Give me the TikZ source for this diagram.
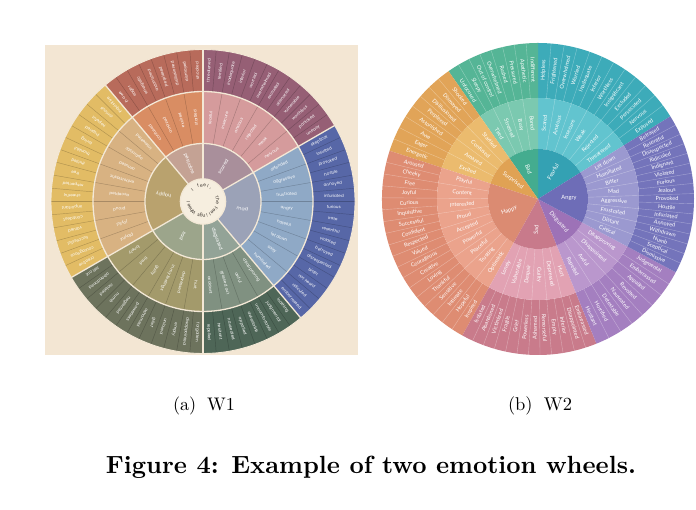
\documentclass[tikz,border=0pt]{standalone}
\usepackage{fontspec}
\usepackage{graphicx}
\newfontfamily\wonefont{Poppins}
\newfontfamily\wtwofont{Lato}

\definecolor{w1bg}{HTML}{F3E6D3}
\definecolor{w1line}{HTML}{F3E8D6}
\definecolor{w1center}{HTML}{F6EEDF}
\definecolor{w1ctext}{HTML}{3A342E}
\definecolor{w1madO}{HTML}{5767A7}
\definecolor{w1madM}{HTML}{8FA9C6}
\definecolor{w1madC}{HTML}{9BA2B7}
\definecolor{w1scaO}{HTML}{965F75}
\definecolor{w1scaM}{HTML}{D59B9C}
\definecolor{w1scaC}{HTML}{A98F9B}
\definecolor{w1surO}{HTML}{B86B5B}
\definecolor{w1surM}{HTML}{D98D63}
\definecolor{w1surC}{HTML}{C4A294}
\definecolor{w1hapO}{HTML}{E2BC65}
\definecolor{w1hapM}{HTML}{D8B282}
\definecolor{w1hapC}{HTML}{B9A26E}
\definecolor{w1sadO}{HTML}{6D735D}
\definecolor{w1sadM}{HTML}{A39A6B}
\definecolor{w1sadC}{HTML}{9CA58B}
\definecolor{w1disO}{HTML}{4E6657}
\definecolor{w1disM}{HTML}{809181}
\definecolor{w1disC}{HTML}{93A397}

\definecolor{w2fearO}{HTML}{3DABB9}
\definecolor{w2fearM}{HTML}{62C4CF}
\definecolor{w2fearC}{HTML}{34A1B3}
\definecolor{w2badO}{HTML}{55B596}
\definecolor{w2badM}{HTML}{7BC9B0}
\definecolor{w2badC}{HTML}{44AC8F}
\definecolor{w2surO}{HTML}{E1A458}
\definecolor{w2surM}{HTML}{EBBB6E}
\definecolor{w2surC}{HTML}{E0A254}
\definecolor{w2hapO}{HTML}{DE8C72}
\definecolor{w2hapM}{HTML}{EBA38C}
\definecolor{w2hapC}{HTML}{DB8B72}
\definecolor{w2sadO}{HTML}{C97B8B}
\definecolor{w2sadM}{HTML}{E2A2B3}
\definecolor{w2sadC}{HTML}{C87A8B}
\definecolor{w2disO}{HTML}{A47FC0}
\definecolor{w2disM}{HTML}{BA97CD}
\definecolor{w2disC}{HTML}{9D72B7}
\definecolor{w2angO}{HTML}{7474BB}
\definecolor{w2angM}{HTML}{9B99D0}
\definecolor{w2angC}{HTML}{6E6DB7}

\def\wRout{152}\def\wRmid{110}\def\wRcore{58}\def\wRin{22.7}
\def\vRout{156}\def\vRmid{101}\def\vRcore{50}

\tikzset{
  w1txt/.style={text=white, font=\wonefont\fontsize{4.1}{4.5}\selectfont, inner sep=0pt},
  w1coretxt/.style={text=white, font=\wonefont\fontsize{4.8}{5}\selectfont, inner sep=0pt},
  w1leaf/.style={draw=black, draw opacity=0.22, line width=0.45pt},
  w1sep/.style={draw=w1line, line width=1.3pt},
  w2txt/.style={text=white, font=\wtwofont\fontsize{5.5}{6}\selectfont, inner sep=0pt},
  w2coretxt/.style={text=white, font=\wtwofont\fontsize{5.8}{6}\selectfont, inner sep=0pt},
  w2leaf/.style={draw=white, draw opacity=0.35, line width=0.4pt},
  subcap/.style={inner sep=0pt},
  figcap/.style={font=\bfseries, inner sep=0pt},
  ctrtxt/.style={text=w1ctext, font=\wonefont\fontsize{4.6}{5}\selectfont, inner sep=0pt, anchor=base},
}

% #1 start, #2 leaves, #3 outer col, #4 middle col, #5 core col, #6 core label, #7 outer words, #8 middle words, #9 id
\newcommand\WOneSector[9]{%
  \pgfmathsetmacro\wsE{#1+5*#2}%
  \fill[#3] (#1:\wRmid) arc[start angle=#1,end angle=\wsE,radius=\wRmid] -- (\wsE:\wRout) arc[start angle=\wsE,end angle=#1,radius=\wRout] -- cycle;
  \fill[#4] (#1:\wRcore) arc[start angle=#1,end angle=\wsE,radius=\wRcore] -- (\wsE:\wRmid) arc[start angle=\wsE,end angle=#1,radius=\wRmid] -- cycle;
  \fill[#5] (0,0) -- (#1:\wRcore) arc[start angle=#1,end angle=\wsE,radius=\wRcore] -- cycle;
  \pgfmathtruncatemacro\wsN{#2-1}%
  \foreach \k in {1,...,\wsN} \draw[w1leaf] ({#1+5*\k}:\wRmid) -- ({#1+5*\k}:\wRout);
  \pgfmathtruncatemacro\wsM{#2/2-1}%
  \foreach \k in {1,...,\wsM} \draw[w1leaf] ({#1+10*\k}:\wRcore) -- ({#1+10*\k}:\wRmid);
  \foreach \w [count=\i] in {#7} {%
    \pgfmathsetmacro\wang{#1+5*\i-2.5}%
    \node[w1txt, rotate=\wang] (w1o#9\i) at (\wang:131) {\w};}
  \foreach \w [count=\i] in {#8} {%
    \pgfmathsetmacro\wang{#1+10*\i-5}%
    \node[w1txt, rotate=\wang] (w1m#9\i) at (\wang:84) {\w};}
  \pgfmathsetmacro\wang{#1+2.5*#2}%
  \node[w1coretxt, rotate=\wang] (w1c#9) at (\wang:40) {#6};
}

% #1 start, #2 end, #3 leaves, #4 core label, #5 outer words, #6 middle words, #7 id, #8 colour prefix
\newcommand\WTwoSector[8]{%
  \pgfmathsetmacro\wtS{(#2-#1)/#3}%
  \fill[#8O] (#1:\vRmid) arc[start angle=#1,end angle=#2,radius=\vRmid] -- (#2:\vRout) arc[start angle=#2,end angle=#1,radius=\vRout] -- cycle;
  \fill[#8M] (#1:\vRcore) arc[start angle=#1,end angle=#2,radius=\vRcore] -- (#2:\vRmid) arc[start angle=#2,end angle=#1,radius=\vRmid] -- cycle;
  \fill[#8C] (0,0) -- (#1:\vRcore) arc[start angle=#1,end angle=#2,radius=\vRcore] -- cycle;
  \pgfmathtruncatemacro\wtN{#3-1}%
  \foreach \k in {1,...,\wtN} \draw[w2leaf] ({#1+\wtS*\k}:\vRmid) -- ({#1+\wtS*\k}:\vRout);
  \pgfmathtruncatemacro\wtM{#3/2-1}%
  \foreach \k in {1,...,\wtM} \draw[w2leaf] ({#1+2*\wtS*\k}:\vRcore) -- ({#1+2*\wtS*\k}:\vRmid);
  \foreach \w [count=\i] in {#5} {%
    \pgfmathsetmacro\wang{#1+\wtS*(\i-0.5)}%
    \pgfmathsetmacro\wrot{cos(\wang)<0 ? \wang+180 : \wang}%
    \node[w2txt, rotate=\wrot] (w2o#7\i) at (\wang:129) {\w};}
  \foreach \w [count=\i] in {#6} {%
    \pgfmathsetmacro\wang{#1+2*\wtS*(\i-0.5)}%
    \pgfmathsetmacro\wrot{cos(\wang)<0 ? \wang+180 : \wang}%
    \node[w2txt, rotate=\wrot] (w2m#7\i) at (\wang:76) {\w};}
  \pgfmathsetmacro\wang{(#1+#2)/2}%
  \pgfmathsetmacro\wrot{cos(\wang)<0 ? \wang+180 : \wang}%
  \node[w2coretxt, rotate=\wrot] (w2c#7) at (\wang:31) {#4};
}

% curved text, one letter per node: #1 start angle, #2 step (negative = clockwise), #3 radius, #4 letters, #5 id
\newcommand\CircText[5]{%
  \foreach \ch [count=\i] in {#4} {%
    \pgfmathsetmacro\cang{#1+#2*(\i-1)}%
    \node[ctrtxt, rotate={\cang-90}] (ct#5\i) at (\cang:#3) {\ch};}
}

\begin{document}
\begin{tikzpicture}[x=1pt,y=1pt]
\useasboundingbox (0,0) rectangle (696,510);
\fill[white] (0,0) rectangle (696,510);

% ---------------- W1 ----------------
\fill[w1bg] (45,155) rectangle (358,465);
\begin{scope}[shift={(203,308.5)}]
  \WOneSector{310}{16}{w1madO}{w1madM}{w1madC}{mad}%
    {embarrassed,ridiculed,not heard,bitter,disrespected,betrayed,violated,resentful,irate,furious,infuriated,annoyed,hostile,provoked,insulted,skeptical}%
    {humiliated,salty,let down,hateful,angry,frustrated,aggressive,offended}{mad}
  \WOneSector{30}{12}{w1scaO}{w1scaM}{w1scaC}{scared}%
    {uneasy,panicked,worthless,vulnerable,alienated,excluded,overwhelmed,worried,inferior,inadequate,terrified,threatened}%
    {nervous,weak,rejected,anxious,insecure,fearful}{sca}
  \WOneSector{90}{8}{w1surO}{w1surM}{w1surC}{surprised}%
    {shocked,dismayed,disillusioned,perplexed,astonished,energetic,eager,in awe}%
    {startled,excited,amazed,confused}{sur}
  \WOneSector{130}{16}{w1hapO}{w1hapM}{w1hapC}{happy}%
    {inquisitive,curious,hopeful,inspired,loving,thankful,thrilled,free,respected,cheerful,important,confident,valued,successful,courageous,creative}%
    {interested,optimistic,amused,enthusiastic,accepted,proud,joyful,playful}{hap}
  \WOneSector{210}{12}{w1sadO}{w1sadM}{w1sadC}{sad}%
    {left out,abandoned,isolated,numb,neglected,powerless,ashamed,grief,unloved,empty,disappointed,forgotten}%
    {lonely,tired,guilty,in my feelings,depressed,hurt}{sad}
  \WOneSector{270}{8}{w1disO}{w1disM}{w1disC}{disgusted}%
    {repelled,hesitant,nauseated,appalled,detestable,uncomfortable,judgmental,loathing}%
    {avoidant,grossed out,awful,disapproving}{dis}
  \foreach \a in {30,90,130,210,270,310} \draw[w1sep] (\a:\wRin) -- (\a:\wRout);
  \draw[w1sep] (0,0) circle[radius=\wRcore];
  \draw[w1sep] (0,0) circle[radius=\wRmid];
  \draw[w1sep, line width=0.9pt] (0,0) circle[radius=\wRout];
  \fill[w1center, draw=w1line, line width=1.2pt] (0,0) circle[radius=\wRin];
  \CircText{132}{-12}{14.5}{I,{ },f,e,e,l,{,}}{a}
  \CircText{18}{-11.5}{13}{T,h,e,{ },F,e,e,l,i,n,g,s,{ },W,h,e,e,l}{b}
\end{scope}

% ---------------- W2 ----------------
\begin{scope}[shift={(538,311)}]
  \WTwoSector{32}{90}{12}{Fearful}%
    {Exposed,Nervous,Persecuted,Excluded,Insignificant,Worthless,Inferior,Inadequate,Worried,Overwhelmed,Frightened,Helpless}%
    {Threatened,Rejected,Weak,Insecure,Anxious,Scared}{fear}{w2fear}
  \WTwoSector{90}{125}{8}{Bad}%
    {Indifferent,Apathetic,Pressured,Rushed,Overwhelmed,Out of control,Sleepy,Unfocused}%
    {Bored,Busy,Stressed,Tired}{bad}{w2bad}
  \WTwoSector{125}{162}{8}{Surprised}%
    {Shocked,Dismayed,Disillusioned,Perplexed,Astonished,Awe,Eager,Energetic}%
    {Startled,Confused,Amazed,Excited}{sur}{w2sur}
  \WTwoSector{162}{241}{18}{Happy}%
    {Aroused,Cheeky,Free,Joyful,Curious,Inquisitive,Successful,Confident,Respected,Valued,Courageous,Creative,Loving,Thankful,Sensitive,Intimate,Hopeful,Inspired}%
    {Playful,Content,Interested,Proud,Accepted,Powerful,Peaceful,Trusting,Optimistic}{hap}{w2hap}
  \WTwoSector{241}{292}{12}{Sad}%
    {Isolated,Abandoned,Victimized,Fragile,Grief,Powerless,Ashamed,Remorseful,Empty,Inferior,Disappointed,Embarrassed}%
    {Lonely,Vulnerable,Despair,Guilty,Depressed,Hurt}{sad}{w2sad}
  \WTwoSector{292}{332}{8}{Disgusted}%
    {Hesitant,Horrified,Detestable,Nauseated,Revolted,Appalled,Embarrassed,Judgmental}%
    {Repelled,Awful,Disappointed,Disapproving}{dis}{w2dis}
  \WTwoSector{332}{392}{16}{Angry}%
    {Dismissive,Sceptical,Numb,Withdrawn,Annoyed,Infuriated,Hostile,Provoked,Jealous,Furious,Violated,Indignant,Ridiculed,Disrespected,Resentful,Betrayed}%
    {Critical,Distant,Frustrated,Aggressive,Mad,Bitter,Humiliated,Let down}{ang}{w2ang}
\end{scope}

% ---------------- captions ----------------
\node[subcap] (capa) at (204,104) {\resizebox{62pt}{!}{(a)\hspace{6pt}W1}};
\node[subcap] (capb) at (540,104) {\resizebox{64pt}{!}{(b)\hspace{6pt}W2}};
\node[figcap] (figcap) at (371,43) {\resizebox{530pt}{!}{Figure 4: Example of two emotion wheels.}};
\end{tikzpicture}
\end{document}
